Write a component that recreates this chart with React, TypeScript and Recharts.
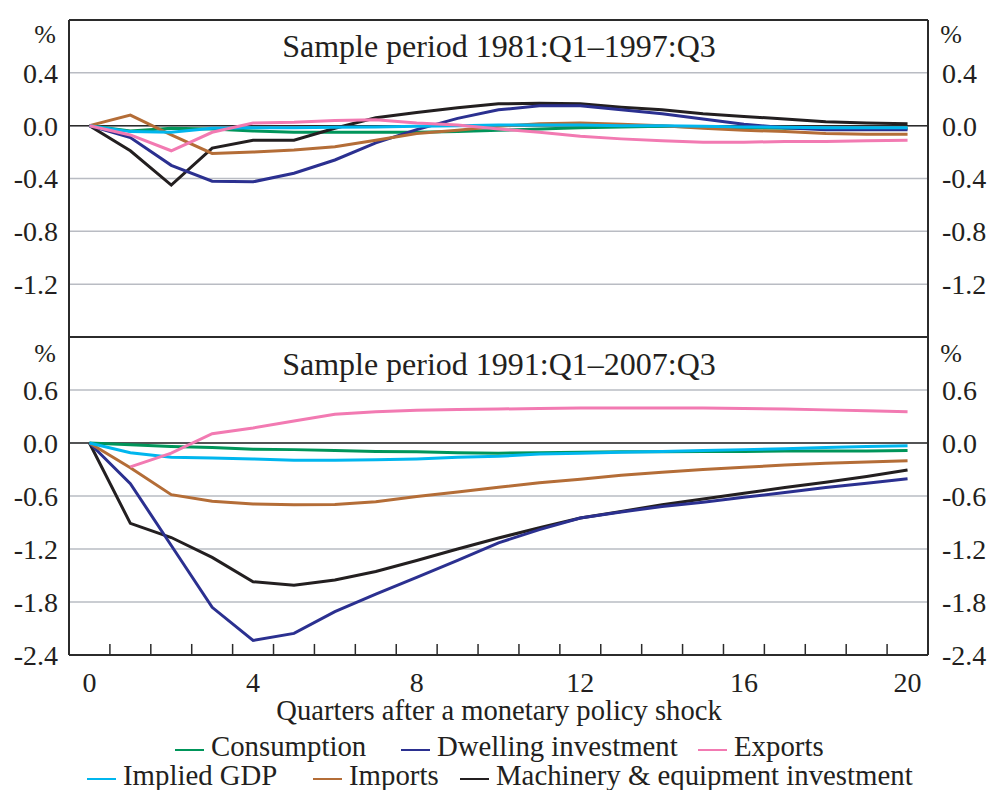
import { LineChart, Line, XAxis, YAxis, CartesianGrid, ReferenceLine } from "recharts";

const FONT = '"Liberation Serif", "Times New Roman", serif';
const INK = "#231f20";
const FRAME = "#2b2b2b";
const GRID = "#b9bcc3";

// quarters after the shock
const quarters = [0, 1, 2, 3, 4, 5, 6, 7, 8, 9, 10, 11, 12, 13, 14, 15, 16, 17, 18, 19, 20];
const labelTicks = [0, 4, 8, 12, 16, 20];
const minorTicks = [0.5, 1.5, 2.5, 3.5, 4.5, 5.5, 6.5, 7.5, 8.5, 9.5, 10.5, 11.5, 12.5, 13.5, 14.5, 15.5, 16.5, 17.5, 18.5, 19.5];

// sample period 1981:Q1–1997:Q3
const consumption81 = [0, -0.04, -0.02, -0.025, -0.04, -0.05, -0.05, -0.05, -0.05, -0.045, -0.035, -0.025, -0.015, -0.01, -0.005, -0.01, -0.015, -0.02, -0.02, -0.02, -0.02];
const dwelling81 = [0, -0.09, -0.3, -0.42, -0.425, -0.36, -0.26, -0.13, -0.03, 0.055, 0.12, 0.15, 0.15, 0.12, 0.09, 0.05, 0.01, -0.015, -0.03, -0.03, -0.03];
const exports81 = [0, -0.07, -0.19, -0.05, 0.02, 0.025, 0.04, 0.045, 0.02, 0.005, -0.025, -0.05, -0.08, -0.1, -0.115, -0.125, -0.125, -0.12, -0.12, -0.115, -0.11];
const gdp81 = [0, -0.045, -0.05, -0.02, -0.015, -0.015, -0.012, -0.01, -0.005, 0, 0.005, 0.005, 0.005, 0, 0, -0.005, -0.01, -0.012, -0.015, -0.015, -0.015];
const imports81 = [0, 0.08, -0.07, -0.21, -0.2, -0.185, -0.16, -0.11, -0.06, -0.035, -0.005, 0.015, 0.02, 0.01, 0, -0.02, -0.035, -0.045, -0.06, -0.065, -0.065];
const machinery81 = [0, -0.19, -0.45, -0.17, -0.11, -0.11, -0.02, 0.06, 0.1, 0.135, 0.165, 0.17, 0.165, 0.14, 0.12, 0.09, 0.07, 0.05, 0.03, 0.02, 0.015];

// sample period 1991:Q1–2007:Q3
const consumption91 = [0, -0.02, -0.04, -0.05, -0.07, -0.075, -0.085, -0.095, -0.1, -0.11, -0.115, -0.11, -0.105, -0.1, -0.1, -0.095, -0.095, -0.09, -0.09, -0.09, -0.085];
const dwelling91 = [0, -0.46, -1.16, -1.86, -2.235, -2.155, -1.91, -1.71, -1.52, -1.33, -1.13, -0.98, -0.85, -0.78, -0.72, -0.67, -0.615, -0.56, -0.505, -0.455, -0.405];
const exports91 = [null, -0.27, -0.115, 0.105, 0.17, 0.25, 0.325, 0.355, 0.37, 0.38, 0.385, 0.39, 0.395, 0.395, 0.395, 0.395, 0.39, 0.385, 0.375, 0.365, 0.355];
const gdp91 = [0, -0.11, -0.16, -0.17, -0.18, -0.195, -0.195, -0.19, -0.18, -0.16, -0.15, -0.125, -0.115, -0.105, -0.095, -0.085, -0.075, -0.065, -0.05, -0.04, -0.03];
const imports91 = [0, -0.28, -0.585, -0.66, -0.69, -0.7, -0.695, -0.665, -0.605, -0.555, -0.5, -0.45, -0.41, -0.365, -0.33, -0.3, -0.275, -0.25, -0.23, -0.215, -0.2];
const machinery91 = [0, -0.91, -1.07, -1.295, -1.57, -1.61, -1.55, -1.455, -1.33, -1.2, -1.075, -0.96, -0.85, -0.775, -0.7, -0.635, -0.57, -0.505, -0.445, -0.38, -0.305];

const ticks81 = [-1.2, -0.8, -0.4, 0, 0.4];
const ticks91 = [-2.4, -1.8, -1.2, -0.6, 0, 0.6];

const series = [
  { key: "consumption", name: "Consumption", color: "#00955a" },
  { key: "machinery", name: "Machinery & equipment investment", color: "#231f20" },
  { key: "dwelling", name: "Dwelling investment", color: "#2b3090" },
  { key: "imports", name: "Imports", color: "#b46d37" },
  { key: "gdp", name: "Implied GDP", color: "#00b6ee" },
  { key: "exports", name: "Exports", color: "#f27ab2" },
];

const rows81 = quarters.map((q, i) => ({
  q,
  consumption: consumption81[i],
  dwelling: dwelling81[i],
  exports: exports81[i],
  gdp: gdp81[i],
  imports: imports81[i],
  machinery: machinery81[i],
}));

const rows91 = quarters.map((q, i) => ({
  q,
  consumption: consumption91[i],
  dwelling: dwelling91[i],
  exports: exports91[i],
  gdp: gdp91[i],
  imports: imports91[i],
  machinery: machinery91[i],
}));

// legend layout, two rows like the original
const legendRows = [
  [
    { key: "consumption", x: 175 },
    { key: "dwelling", x: 401 },
    { key: "exports", x: 698 },
  ],
  [
    { key: "gdp", x: 87 },
    { key: "imports", x: 313 },
    { key: "machinery", x: 460 },
  ],
];

const tickStyle = { fontSize: 28, fontFamily: FONT, fill: INK };
const fmt = (v: number) => v.toFixed(1);

function yAxes(domain: number[], ticks: number[]) {
  return [
    <YAxis
      key="l"
      yAxisId="left"
      type="number"
      domain={domain}
      ticks={ticks}
      allowDataOverflow
      width={60}
      tick={tickStyle}
      tickFormatter={fmt}
      tickLine={false}
      tickMargin={5}
      axisLine={{ stroke: FRAME, strokeWidth: 2 }}
    />,
    <YAxis
      key="r"
      yAxisId="right"
      orientation="right"
      type="number"
      domain={domain}
      ticks={ticks}
      allowDataOverflow
      width={60}
      tick={{ ...tickStyle, textAnchor: "start" }}
      tickFormatter={fmt}
      tickLine={false}
      tickMargin={8}
      axisLine={{ stroke: FRAME, strokeWidth: 2 }}
    />,
  ];
}

function lines() {
  return series.map((s) => (
    <Line
      key={s.key}
      yAxisId="left"
      dataKey={s.key}
      name={s.name}
      type="linear"
      stroke={s.color}
      strokeWidth={3}
      dot={false}
      activeDot={false}
      isAnimationActive={false}
    />
  ));
}

export default function App() {
  return (
    <div style={{ position: "absolute", left: 0, top: 0, width: 991, height: 790, background: "#fff" }}>
      <div style={{ position: "absolute", left: 0, top: 0 }}>
        <LineChart width={991} height={340} data={rows81} margin={{ top: 20, right: 3, left: 9, bottom: 3 }}>
          <CartesianGrid yAxisId="left" vertical={false} stroke={GRID} strokeWidth={1.5} />
          <XAxis dataKey="q" type="number" domain={[-0.5, 20.5]} hide />
          {yAxes([-1.6, 0.8], ticks81)}
          <ReferenceLine yAxisId="left" y={0} stroke={FRAME} strokeWidth={1.5} />
          <ReferenceLine yAxisId="left" y={0.8} stroke={FRAME} strokeWidth={2} />
          <ReferenceLine yAxisId="left" y={-1.6} stroke={FRAME} strokeWidth={2} />
          {lines()}
        </LineChart>
      </div>
      <div style={{ position: "absolute", left: 0, top: 0 }}>
        <LineChart width={991} height={790} data={rows91} margin={{ top: 337, right: 3, left: 9, bottom: 95 }}>
          <CartesianGrid yAxisId="left" vertical={false} stroke={GRID} strokeWidth={1.5} />
          <XAxis
            dataKey="q"
            type="number"
            domain={[-0.5, 20.5]}
            ticks={labelTicks}
            height={40}
            tick={tickStyle}
            tickLine={false}
            tickMargin={11}
            axisLine={{ stroke: FRAME, strokeWidth: 2 }}
          />
          {yAxes([-2.4, 1.2], ticks91)}
          <ReferenceLine yAxisId="left" y={0} stroke={FRAME} strokeWidth={1.5} />
          <ReferenceLine yAxisId="left" y={1.2} stroke={FRAME} strokeWidth={2} />
          {/* quarter boundary ticks pointing up from the bottom axis */}
          {minorTicks.map((t) => (
            <ReferenceLine
              key={t}
              yAxisId="left"
              segment={[
                { x: t, y: -2.4 },
                { x: t, y: -2.275 },
              ]}
              stroke={FRAME}
              strokeWidth={1.5}
            />
          ))}
          {lines()}
        </LineChart>
      </div>
      <svg width={991} height={790} style={{ position: "absolute", left: 0, top: 0, pointerEvents: "none" }} fontFamily={FONT} fill={INK}>
        <text x={499} y={57} fontSize={32} textAnchor="middle">Sample period 1981:Q1–1997:Q3</text>
        <text x={499} y={375} fontSize={32} textAnchor="middle">Sample period 1991:Q1–2007:Q3</text>
        <text x={45} y={43} fontSize={26} textAnchor="middle">%</text>
        <text x={951} y={43} fontSize={26} textAnchor="middle">%</text>
        <text x={45} y={362} fontSize={26} textAnchor="middle">%</text>
        <text x={951} y={362} fontSize={26} textAnchor="middle">%</text>
        <text x={499} y={720} fontSize={28.6} textAnchor="middle">Quarters after a monetary policy shock</text>
        {legendRows.map((row, r) =>
          row.map((item) => {
            const s = series.find((d) => d.key === item.key)!;
            const base = r === 0 ? 756 : 785;
            return (
              <g key={item.key}>
                <line x1={item.x} x2={item.x + 29} y1={base - 6} y2={base - 6} stroke={s.color} strokeWidth={2} />
                <text x={item.x + 36} y={base} fontSize={28.8}>{s.name}</text>
              </g>
            );
          })
        )}
      </svg>
    </div>
  );
}
